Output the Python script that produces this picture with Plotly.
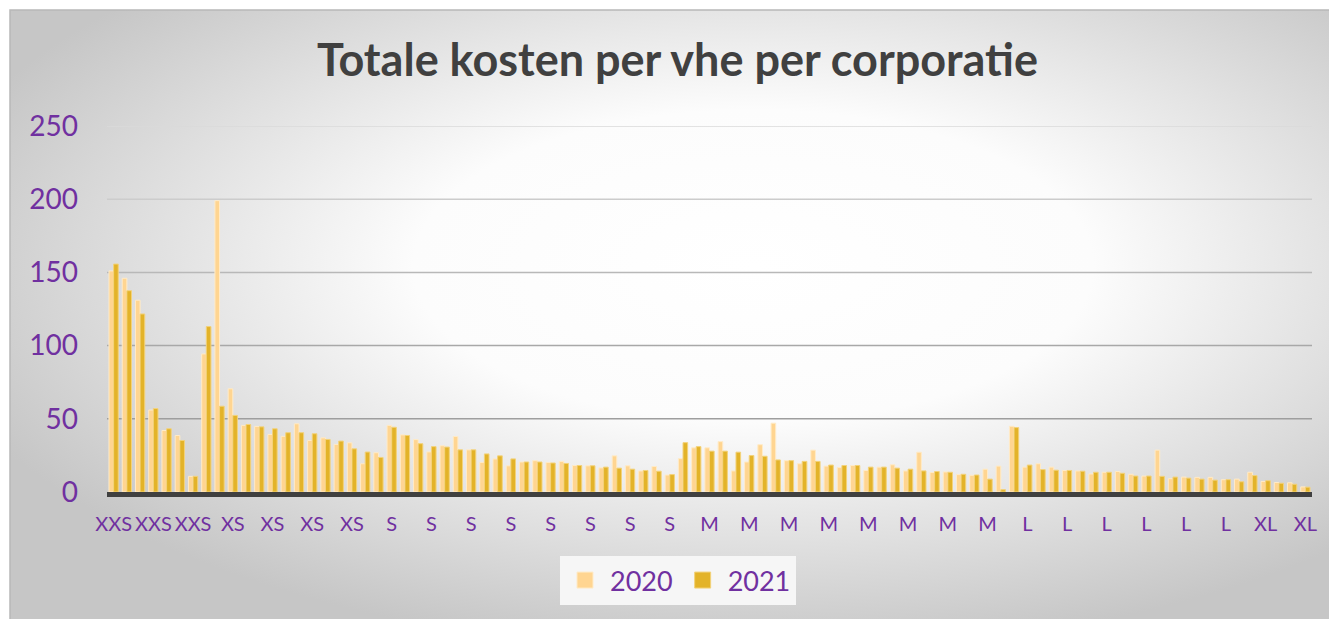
import base64
import plotly.graph_objects as go

# ---------------- data ----------------
title_text = "Totale kosten per vhe per corporatie"
series_names = ["2020", "2021"]

kosten_2020 = [
    151, 146, 131, 56, 42, 38.6, 10.7, 94.3, 199, 70.5,
    45.5, 44.8, 39.3, 38, 46.6, 35.2, 37, 32.5, 33.6, 19.3,
    26.8, 45.5, 39, 35.8, 27.4, 31.6, 37.9, 28.8, 20.2, 22.6,
    17.9, 20.5, 21.4, 20.2, 20.9, 18.1, 17.9, 16.5, 24.7, 17.9,
    14.4, 17.4, 11.6, 22.8, 30.2, 30.2, 34.4, 14.4, 20.5, 32.3,
    47, 21.4, 19.3, 28.6, 17.7, 16.7, 18.1, 14.7, 17, 18.6,
    14.4, 27.2, 13.3, 13.7, 11.9, 11.4, 15.6, 17.7, 44.9, 17,
    19.3, 17, 14.7, 14.4, 12.3, 13.5, 14, 12.1, 10.9, 28.6,
    9.1, 10.2, 10, 10, 8.4, 8.8, 13.5, 7.2, 6.5, 6.3,
    3.5,
]
kosten_2021 = [
    155.7, 137.5, 121.6, 57, 43.2, 35.2, 10.7, 113, 58.6, 52.3,
    46.1, 44.5, 43.2, 40.5, 40.5, 39.8, 35.9, 34.8, 29.5, 27.3,
    23.6, 44.2, 38.6, 33, 31, 30.7, 28.8, 28.8, 26, 24.7,
    22.6, 20.5, 20.5, 19.8, 19.5, 18.1, 17.9, 17, 16.3, 15.6,
    14.7, 14.2, 11.9, 33.7, 31, 27.9, 27.9, 27.2, 24.9, 24.4,
    21.9, 21.4, 20.9, 20.9, 18.4, 18.1, 18.1, 17, 17, 16.3,
    15.6, 14.4, 14, 13.5, 12.1, 11.6, 8.8, 1.6, 44, 18.4,
    15.3, 14.9, 14.7, 14.2, 13.5, 13.5, 12.8, 10.9, 10.9, 10.7,
    10.2, 9.5, 8.8, 8.1, 8.4, 7, 11.2, 7.7, 6, 5.3,
    3.3,
]
# one label shown for every third corporation
tick_labels = (["XXS"] * 3 + ["XS"] * 4 + ["S"] * 8 + ["M"] * 8
               + ["L"] * 6 + ["XL"] * 2)
y_ticks = [0, 50, 100, 150, 200, 250]

# ---------------- styling ----------------
OFF = 8                      # page body margin of the html page
W, H = 1337 - OFF, 619 - OFF
L, R, T, B = 107 - OFF, 25, 126 - OFF, 127
PW, PH = W - L - R, H - T - B
PURPLE = "#7030A0"
C2020, C2020_LINE = "#FFD591", "#FFEBC8"
C2021, C2021_LINE = "#E3B329", "#F3D27A"
FONT = "Lato"


def px_x(px):
    """screen pixel -> paper x"""
    return (px - OFF - L) / PW


def px_y(py):
    """screen pixel -> paper y"""
    return (H - B - (py - OFF)) / PH


n = len(kosten_2020)
xs = list(range(n))

fig = go.Figure()
fig.add_trace(go.Bar(x=xs, y=kosten_2020, name=series_names[0], showlegend=False,
                     marker=dict(color=C2020, line=dict(color=C2020_LINE, width=1))))
fig.add_trace(go.Bar(x=xs, y=kosten_2021, name=series_names[1], showlegend=False,
                     marker=dict(color=C2021, line=dict(color=C2021_LINE, width=1))))
# legend entries (square symbols)
for nm, c, lc in [(series_names[0], C2020, C2020_LINE), (series_names[1], C2021, C2021_LINE)]:
    fig.add_trace(go.Scatter(x=[None], y=[None], mode="markers", name=nm,
                             marker=dict(symbol="square", size=16, color=c,
                                         line=dict(color=lc, width=1))))

# background gradient frame
svg = (
    '<svg xmlns="http://www.w3.org/2000/svg" width="1327" height="609" '
    'viewBox="0 0 1327 609" preserveAspectRatio="none">'
    '<defs><radialGradient id="g" cx="0.56" cy="0.42" r="0.64">'
    '<stop offset="0" stop-color="#ffffff"/>'
    '<stop offset="0.4" stop-color="#fcfcfc"/>'
    '<stop offset="1" stop-color="#c6c6c6"/>'
    '</radialGradient></defs>'
    '<rect width="1327" height="609" fill="url(#g)"/></svg>'
)
src = "data:image/svg+xml;base64," + base64.b64encode(svg.encode()).decode()
fig.add_layout_image(dict(source=src, xref="paper", yref="paper",
                          x=px_x(10), y=px_y(10), sizex=1327 / PW, sizey=609 / PH,
                          xanchor="left", yanchor="top", sizing="stretch", layer="below"))

shapes = [dict(type="rect", xref="paper", yref="paper", x0=px_x(10), y0=px_y(630),
               x1=px_x(1350), y1=px_y(10), line=dict(color="#b8b8b8", width=1.5),
               fillcolor="rgba(0,0,0,0)", layer="below")]
grid_cols = {50: "#9e9e9e", 100: "#a8a8a8", 150: "#b8b8b8", 200: "#cccccc", 250: "#dadada"}
for v in y_ticks[1:]:
    shapes.append(dict(type="line", xref="paper", yref="y", x0=0, x1=1, y0=v, y1=v,
                       line=dict(color=grid_cols[v], width=1.5), layer="below"))

fig.update_layout(
    width=W, height=H,
    margin=dict(l=L, r=R, t=T, b=B, pad=0, autoexpand=False),
    paper_bgcolor="white",
    plot_bgcolor="rgba(0,0,0,0)",
    barmode="group", bargap=0.3, bargroupgap=0,
    font=dict(family=FONT, color=PURPLE),
    title=dict(text="<b>" + title_text + "</b>", xref="container", yref="container",
               x=(677.5 - OFF) / W, xanchor="center", y=1 - (61 - OFF - 0.5) / H,
               yanchor="middle",
               font=dict(family=FONT, size=45, color="#404040")),
    shapes=shapes,
    legend=dict(orientation="h", xref="container", yref="container",
                x=(678 - OFF) / W, xanchor="center", y=1 - (556 - OFF) / H, yanchor="top",
                bgcolor="#f6f6f6", font=dict(size=27, color=PURPLE, family=FONT),
                itemsizing="trace", itemwidth=40, borderwidth=0),
    xaxis=dict(range=[-0.5, n - 0.5], tickmode="array",
               tickvals=xs[::3], ticktext=tick_labels, tickangle=0,
               showgrid=False, zeroline=False, showline=True, automargin=False,
               linecolor="#404040", linewidth=5, ticks="",
               tickfont=dict(size=20, color=PURPLE, family=FONT),
               ticklabelstandoff=10),
    yaxis=dict(range=[0, 250], tickmode="array", tickvals=y_ticks, automargin=False,
               showgrid=False, zeroline=False, showline=False, ticks="",
               tickfont=dict(size=28, color=PURPLE, family=FONT),
               ticklabelstandoff=28),
)

fig.write_html("out.html")
